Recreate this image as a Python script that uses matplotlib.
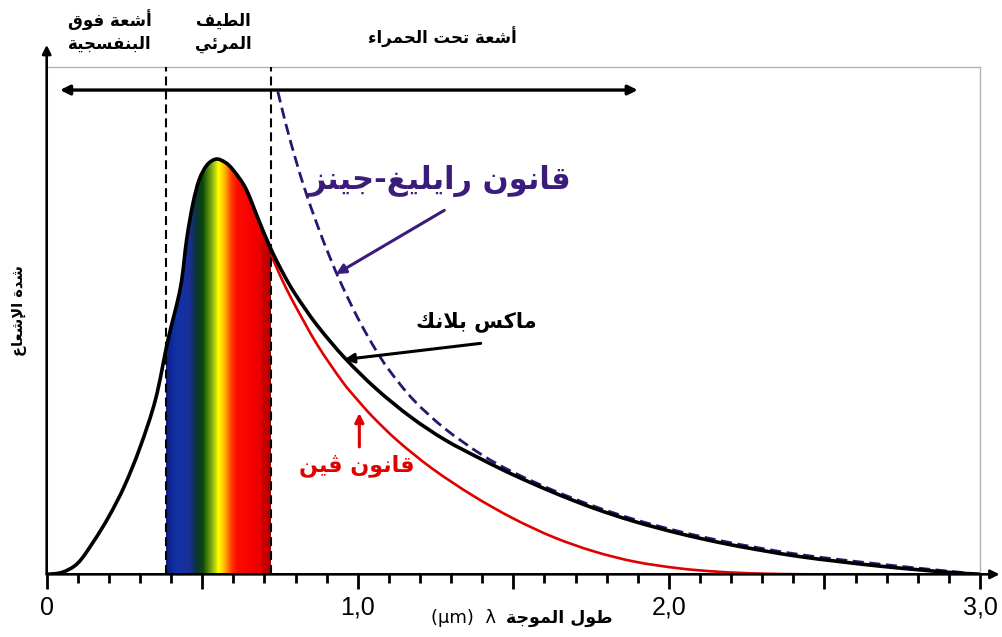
import numpy as np
import matplotlib
matplotlib.use('Agg')
import matplotlib.pyplot as plt
from matplotlib.colors import LinearSegmentedColormap
from matplotlib.path import Path
from matplotlib.patches import PathPatch

# Planck curve (arbitrary intensity units), wavelength in um
planck_lam = [0.00, 0.05, 0.10, 0.15, 0.20, 0.25, 0.30, 0.35, 0.39, 0.43, 0.45, 0.47,
              0.49, 0.515, 0.545, 0.575, 0.60, 0.64, 0.68, 0.72, 0.76, 0.80, 0.87, 0.96,
              1.06, 1.17, 1.28, 1.40, 1.50, 1.63, 1.76, 1.89, 2.03, 2.16, 2.29, 2.42,
              2.55, 2.68, 2.82, 2.92, 3.00]
planck_val = [0.000, 0.004, 0.022, 0.064, 0.114, 0.174, 0.250, 0.345, 0.462, 0.565, 0.660, 0.730,
              0.777, 0.806, 0.818, 0.811, 0.796, 0.760, 0.700, 0.642, 0.593, 0.551, 0.490, 0.425,
              0.365, 0.310, 0.265, 0.226, 0.196, 0.161, 0.130, 0.104, 0.081, 0.063, 0.048, 0.035,
              0.025, 0.016, 0.008, 0.003, 0.000]

# Wien approximation
wien_lam = [0.60, 0.64, 0.68, 0.72, 0.76, 0.80, 0.87, 0.95, 1.00, 1.05, 1.13, 1.24, 1.37,
            1.50, 1.63, 1.76, 1.89, 2.03, 2.16, 2.29, 2.45, 2.60]
wien_val = [0.796, 0.760, 0.700, 0.632, 0.576, 0.528, 0.452, 0.380, 0.343, 0.309, 0.262, 0.208,
            0.155, 0.110, 0.073, 0.045, 0.025, 0.012, 0.005, 0.0015, 0.000, 0.000]

# Rayleigh-Jeans
rj_lam = [0.743, 0.77, 0.80, 0.83, 0.87, 0.91, 0.95, 1.00, 1.05, 1.10, 1.18, 1.28,
          1.40, 1.50, 1.63, 1.76, 1.89, 2.03, 2.16, 2.29, 2.42, 2.55, 2.68, 2.82, 2.92, 3.00]
rj_val = [0.951, 0.884, 0.818, 0.758, 0.688, 0.625, 0.568, 0.505, 0.450, 0.403, 0.343, 0.287,
          0.235, 0.201, 0.165, 0.134, 0.108, 0.085, 0.067, 0.052, 0.039, 0.029, 0.020, 0.011,
          0.005, 0.000]

visible = [0.385, 0.72]
tick_pos = [0.0, 0.5, 1.0, 1.5, 2.0, 2.5, 3.0]
tick_lbl = ['0', '', '1,0', '', '2,0', '', '3,0']

# --- minimal arabic shaping (presentation forms + visual order) ---
FORMS = {
    'ء': (0xFE80, 1), 'آ': (0xFE81, 2), 'أ': (0xFE83, 2), 'ؤ': (0xFE85, 2),
    'إ': (0xFE87, 2), 'ئ': (0xFE89, 4), 'ا': (0xFE8D, 2), 'ب': (0xFE8F, 4),
    'ة': (0xFE93, 2), 'ت': (0xFE95, 4), 'ث': (0xFE99, 4), 'ج': (0xFE9D, 4),
    'ح': (0xFEA1, 4), 'خ': (0xFEA5, 4), 'د': (0xFEA9, 2), 'ذ': (0xFEAB, 2),
    'ر': (0xFEAD, 2), 'ز': (0xFEAF, 2), 'س': (0xFEB1, 4), 'ش': (0xFEB5, 4),
    'ص': (0xFEB9, 4), 'ض': (0xFEBD, 4), 'ط': (0xFEC1, 4), 'ظ': (0xFEC5, 4),
    'ع': (0xFEC9, 4), 'غ': (0xFECD, 4), 'ف': (0xFED1, 4), 'ق': (0xFED5, 4),
    'ك': (0xFED9, 4), 'ل': (0xFEDD, 4), 'م': (0xFEE1, 4), 'ن': (0xFEE5, 4),
    'ه': (0xFEE9, 4), 'و': (0xFEED, 2), 'ى': (0xFEEF, 2), 'ي': (0xFEF1, 4),
    'ڤ': (0xFB6A, 4),
}
LAM_ALEF = {'ا': 0xFEFB, 'أ': 0xFEF7, 'إ': 0xFEF9, 'آ': 0xFEF5}


def ar(text):
    out = []
    prev_joins = False
    i = 0
    while i < len(text):
        ch = text[i]
        nxt = text[i + 1] if i + 1 < len(text) else ''
        if ch not in FORMS:
            out.append(ch)
            prev_joins = False
            i += 1
            continue
        if ch == 'ل' and nxt in LAM_ALEF:
            out.append(chr(LAM_ALEF[nxt] + (1 if prev_joins else 0)))
            prev_joins = False
            i += 2
            continue
        base, n = FORMS[ch]
        next_joins = n == 4 and nxt in FORMS and FORMS[nxt][1] > 1
        if n == 4 and prev_joins and next_joins:
            k = 3
        elif next_joins:
            k = 2
        elif prev_joins and n > 1:
            k = 1
        else:
            k = 0
        out.append(chr(base + k))
        prev_joins = next_joins
        i += 1
    return ''.join(reversed(out))


def smooth_path(xs, ys, close=False):
    # Catmull-Rom through the points, written as cubic Bezier segments
    p = np.column_stack([xs, ys]).astype(float)
    ext = np.vstack([p[0], p, p[-1]])
    verts = [p[0]]
    codes = [Path.MOVETO]
    for i in range(1, len(ext) - 2):
        p0, p1, p2, p3 = ext[i - 1], ext[i], ext[i + 1], ext[i + 2]
        verts += [p1 + (p2 - p0) / 6, p2 - (p3 - p1) / 6, p2]
        codes += [Path.CURVE4] * 3
    if close:
        verts.append(p[0])
        codes.append(Path.CLOSEPOLY)
    return Path(np.array(verts), codes)


plt.rcParams['font.family'] = ['Liberation Sans', 'DejaVu Sans']
AR = dict(family=['DejaVu Sans'], fontweight='bold')

fig = plt.figure(figsize=(10.02, 6.37), dpi=100)
ax = fig.add_axes([0.0466, 0.0984, 0.9314, 0.7969])

# visible band, coloured like a spectrum, clipped under the Planck curve
spec = LinearSegmentedColormap.from_list('spec', [
    (0.00, '#0b1f86'), (0.10, '#1232a8'), (0.22, '#1a2f98'), (0.29, '#0c3438'),
    (0.35, '#0a4a06'), (0.43, '#77a614'), (0.50, '#ffff00'), (0.56, '#ffb400'),
    (0.62, '#ff4000'), (0.68, '#ff0a00'), (0.88, '#ee0000'), (1.00, '#a80000')])
clip = PathPatch(smooth_path(planck_lam, planck_val, close=True),
                 facecolor='none', edgecolor='none')
ax.add_patch(clip)
img = ax.imshow(np.linspace(0, 1, 256)[None, :], extent=[visible[0], visible[1], 0, 1],
                aspect='auto', cmap=spec, zorder=2)
img.set_clip_path(clip)

ax.add_patch(PathPatch(smooth_path(wien_lam, wien_val), fill=False, edgecolor='#e00000',
                       lw=1.9, zorder=1.5))
ax.add_patch(PathPatch(smooth_path(rj_lam, rj_val), fill=False, edgecolor='#2a1670',
                       lw=2.0, linestyle=(0, (4.0, 2.0)), zorder=3))
ax.add_patch(PathPatch(smooth_path(planck_lam, planck_val), fill=False, edgecolor='black',
                       lw=2.6, zorder=4, capstyle='round', joinstyle='round'))

for x in visible:
    ax.plot([x, x], [0, 1], color='black', lw=1.5, dashes=(4.3, 2.4), zorder=5)

# band arrow across the spectrum
ax.annotate('', xy=(0.043, 0.954), xytext=(1.90, 0.954),
            arrowprops=dict(arrowstyle='<|-|>', color='black', lw=2.4,
                            mutation_scale=14, shrinkA=0, shrinkB=0))

ax.set_xlim(0, 3.0)
ax.set_ylim(0, 1.0)

for s in ['left', 'bottom']:
    ax.spines[s].set_visible(False)
for s in ['top', 'right']:
    ax.spines[s].set_color('#b4b4b4')
    ax.spines[s].set_linewidth(1.0)

# axis lines with arrow heads
ax.annotate('', xy=(0, 1.043), xytext=(0, 0), xycoords='axes fraction',
            arrowprops=dict(arrowstyle='-|>', color='black', lw=1.9,
                            mutation_scale=13, shrinkA=0, shrinkB=0))
ax.annotate('', xy=(1.021, 0), xytext=(0, 0), xycoords='axes fraction',
            arrowprops=dict(arrowstyle='-|>', color='black', lw=1.9,
                            mutation_scale=13, shrinkA=0, shrinkB=0))

ax.set_xticks(tick_pos)
ax.set_xticklabels(tick_lbl, fontsize=18)
ax.set_xticks(np.arange(0, 3.01, 0.1), minor=True)
ax.tick_params(axis='x', which='major', length=10.5, width=2, pad=5, colors='black')
ax.tick_params(axis='x', which='minor', length=6.5, width=2)
ax.set_yticks([])

# region labels above the frame
ax.text(0.2035, 1.091, ar('أشعة فوق'), ha='center', va='center', fontsize=12, **AR)
ax.text(0.2035, 1.045, ar('البنفسجية'), ha='center', va='center', fontsize=12, **AR)
ax.text(0.567, 1.091, ar('الطيف'), ha='center', va='center', fontsize=12, **AR)
ax.text(0.567, 1.045, ar('المرئي'), ha='center', va='center', fontsize=12, **AR)
ax.text(1.271, 1.057, ar('أشعة تحت الحمراء'), ha='center', va='center', fontsize=12, **AR)

# curve labels
rj_tip = 0.93
ax.text(1.264, 0.775, ar('قانون رايليغ-جينز'), ha='center', va='center',
        fontsize=22, color='#3b1c7c', **AR)
ax.annotate('', xy=(rj_tip, np.interp(rj_tip, rj_lam, rj_val) - 0.005), xytext=(1.278, 0.717),
            arrowprops=dict(arrowstyle='-|>', color='#3b1c7c', lw=2.2,
                            mutation_scale=14, shrinkA=0, shrinkB=0))

pl_tip = 0.957
ax.text(1.38, 0.497, ar('ماكس بلانك'), ha='center', va='center', fontsize=15, **AR)
ax.annotate('', xy=(pl_tip, np.interp(pl_tip, planck_lam, planck_val) - 0.004), xytext=(1.395, 0.455),
            arrowprops=dict(arrowstyle='-|>', color='black', lw=2.2,
                            mutation_scale=14, shrinkA=0, shrinkB=0))

wn_tip = 1.005
ax.text(0.998, 0.215, ar('قانون ڤين'), ha='center', va='center', fontsize=16,
        color='#e00000', **AR)
ax.annotate('', xy=(wn_tip, np.interp(wn_tip, wien_lam, wien_val) - 0.022), xytext=(wn_tip, 0.251),
            arrowprops=dict(arrowstyle='-|>', color='#e00000', lw=2.2,
                            mutation_scale=13, shrinkA=0, shrinkB=0))

# axis titles
ax.text(-0.089, 0.519, ar('شدة الإشعاع'), rotation=90, ha='center', va='center',
        fontsize=10.5, **AR)
ax.text(1.82, -0.086, ar('طول الموجة'), ha='right', va='center', fontsize=12.5, **AR)
ax.text(1.445, -0.086, '(μm)  λ', ha='right', va='center', fontsize=13,
        family=['DejaVu Sans'])

fig.savefig('out.png', dpi=100)
